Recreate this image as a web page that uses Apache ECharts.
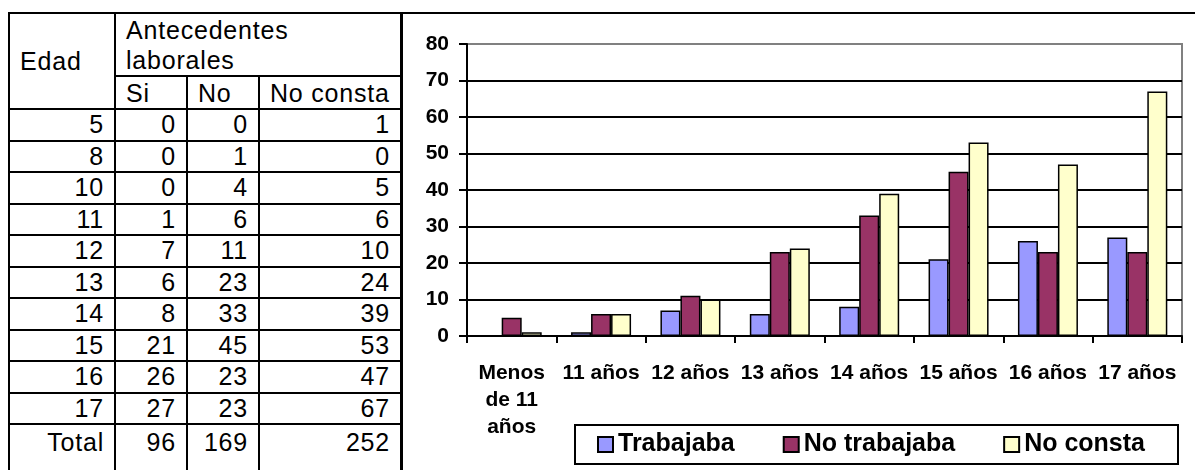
<!DOCTYPE html>
<html>
<head>
<meta charset="utf-8">
<script src="https://cdn.jsdelivr.net/npm/echarts@6/dist/echarts.min.js"></script>
<style>
  html, body {
    margin: 0;
    padding: 0;
    width: 1195px;
    height: 470px;
    overflow: hidden;
    background: #fff;
    font-family: 'Liberation Sans', Arial, sans-serif;
  }
  #tabla {
    position: absolute;
    left: 8px;
    top: 12px;
    border-collapse: collapse;
    table-layout: fixed;
    font-size: 25px;
    letter-spacing: 0.8px;
    color: #000;
  }
  #tabla td {
    border: 2px solid #000;
    padding: 0 10px;
    white-space: nowrap;
    overflow: hidden;
  }
  #tabla td.num { text-align: right; }
  #tabla tr.fila td { height: 29.5px; line-height: 29px; }
  #marco {
    position: absolute;
    left: 401px;
    top: 12px;
    width: 900px;
    height: 500px;
    border-top: 2px solid #000;
    border-left: 2px solid #000;
  }
  #grafico {
    position: absolute;
    left: 404px;
    top: 15px;
    width: 791px;
    height: 455px;
  }
</style>
</head>
<body>
<table id="tabla">
  <colgroup>
    <col style="width:106px">
    <col style="width:72px">
    <col style="width:72px">
    <col style="width:142px">
  </colgroup>
  <tbody id="cuerpo">
    <tr>
      <td rowspan="2" style="vertical-align:middle;">Edad</td>
      <td colspan="3" style="height:59px;line-height:30px;vertical-align:top;padding-top:1px;">Antecedentes<br>laborales</td>
    </tr>
    <tr>
      <td style="height:31px;line-height:30px;">Si</td>
      <td style="line-height:30px;">No</td>
      <td style="line-height:30px;">No consta</td>
    </tr>
  </tbody>
</table>
<div id="marco"></div>
<div id="grafico"></div>
<script>
// tabla de la izquierda
const edades = ['5', '8', '10', '11', '12', '13', '14', '15', '16', '17']
const tablaSi = [0, 0, 0, 1, 7, 6, 8, 21, 26, 27]
const tablaNo = [0, 1, 4, 6, 11, 23, 33, 45, 23, 23]
const tablaNoConsta = [1, 0, 5, 6, 10, 24, 39, 53, 47, 67]
const totales = [96, 169, 252]

// grafico de barras
const categorias = ['Menos\nde 11\naños', '11 años', '12 años', '13 años', '14 años', '15 años', '16 años', '17 años']
const trabajaba = [0, 1, 7, 6, 8, 21, 26, 27]
const noTrabajaba = [5, 6, 11, 23, 33, 45, 23, 23]
const noConsta = [1, 6, 10, 24, 39, 53, 47, 67]
const nombresSeries = ['Trabajaba', 'No trabajaba', 'No consta']

const fuente = "'Liberation Sans', Arial, sans-serif"

// filas de la tabla
const cuerpo = document.getElementById('cuerpo')
edades.forEach((e, i) => {
  const tr = document.createElement('tr')
  tr.className = 'fila'
  ;[e, tablaSi[i], tablaNo[i], tablaNoConsta[i]].forEach(v => {
    const td = document.createElement('td')
    td.className = 'num'
    td.textContent = v
    tr.appendChild(td)
  })
  cuerpo.appendChild(tr)
})
const trTotal = document.createElement('tr')
;['Total'].concat(totales).forEach(v => {
  const td = document.createElement('td')
  td.className = 'num'
  td.style.height = '60px'
  td.style.verticalAlign = 'top'
  td.style.lineHeight = '30px'
  td.style.paddingTop = '2px'
  td.textContent = v
  trTotal.appendChild(td)
})
cuerpo.appendChild(trTotal)

const chart = echarts.init(document.getElementById('grafico'))

const lineaNegra = { color: '#000', width: 2 }

const option = {
  animation: false,
  backgroundColor: 'transparent',
  textStyle: { fontFamily: fuente },
  grid: {
    left: 63,
    right: 13,
    top: 29,
    bottom: 134,
    show: true,
    borderColor: '#808080',
    borderWidth: 2,
  },
  legend: {
    data: nombresSeries,
    left: 171,
    top: 410,
    icon: 'rect',
    itemWidth: 15,
    itemHeight: 15,
    itemGap: 48,
    padding: [7, 33, 7, 22],
    borderColor: '#000',
    borderWidth: 2,
    textStyle: {
      fontFamily: fuente,
      fontSize: 25,
      fontWeight: 'bold',
      color: '#000',
    },
  },
  xAxis: {
    type: 'category',
    data: categorias,
    axisLine: { show: true, lineStyle: lineaNegra },
    axisTick: { show: true, length: 7, lineStyle: lineaNegra },
    splitLine: { show: false },
    axisLabel: {
      interval: 0,
      margin: 24,
      fontFamily: fuente,
      fontSize: 21,
      fontWeight: 'bold',
      lineHeight: 27,
      color: '#000',
    },
  },
  yAxis: {
    type: 'value',
    min: 0,
    max: 80,
    interval: 10,
    axisLine: { show: true, lineStyle: lineaNegra },
    axisTick: { show: true, length: 8, lineStyle: lineaNegra },
    splitLine: {
      show: true,
      showMaxLine: false,
      lineStyle: { color: '#000', width: 2 },
    },
    axisLabel: {
      margin: 18,
      fontFamily: fuente,
      fontSize: 21,
      fontWeight: 'bold',
      color: '#000',
    },
  },
  series: [
    {
      name: nombresSeries[0],
      type: 'bar',
      data: trabajaba,
      barWidth: 20,
      barGap: '0%',
      itemStyle: { color: '#9999FF', borderColor: '#000', borderWidth: 1.5 },
    },
    {
      name: nombresSeries[1],
      type: 'bar',
      data: noTrabajaba,
      barWidth: 20,
      barGap: '0%',
      itemStyle: { color: '#993366', borderColor: '#000', borderWidth: 1.5 },
    },
    {
      name: nombresSeries[2],
      type: 'bar',
      data: noConsta,
      barWidth: 20,
      barGap: '0%',
      itemStyle: { color: '#FFFFCC', borderColor: '#000', borderWidth: 1.5 },
    },
  ],
}

chart.setOption(option)
</script>
</body>
</html>
